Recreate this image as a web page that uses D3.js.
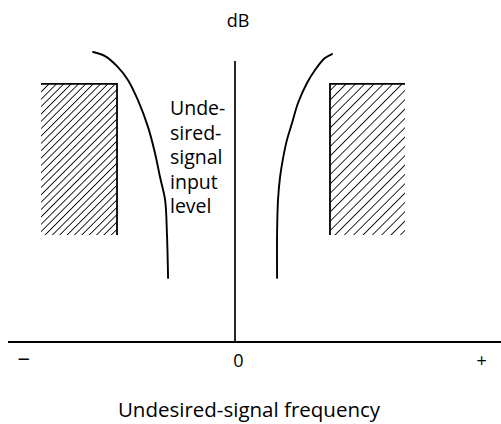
<!DOCTYPE html>
<html>
<head>
<meta charset="utf-8">
<script src="https://cdn.jsdelivr.net/npm/d3@7"></script>
<style>
  html, body { margin: 0; padding: 0; background: #fff; }
  svg { display: block; }
  text { font-family: "Open Sans", "Noto Sans", sans-serif; fill: #000; }
</style>
</head>
<body>
<svg id="chart" width="501" height="424"></svg>
<script>
// Relative frequency (0 = desired channel) and undesired-signal level in dB (relative units)
const xTickValues = [-92, 0, 107];
const xTickLabels = ["\u2212", "0", "+"];

// Selectivity curve, left skirt (frequency, level)
const leftCurveFreq  = [-61.7, -56.5, -50.9, -46.5, -42.2, -37.8, -34.8, -32.6, -30.4, -29.6, -29.1];
const leftCurveLevel = [100.0, 98.6, 94.8, 90.3, 83.4, 74.1, 65.2, 56.9, 49.0, 37.6, 22.1];

// Selectivity curve, right skirt (frequency, level)
const rightCurveFreq  = [42.2, 39.1, 34.8, 31.3, 27.4, 24.8, 22.6, 20.9, 19.6, 18.7, 18.3, 18.3];
const rightCurveLevel = [99.3, 97.9, 93.8, 89.3, 82.4, 75.5, 69.7, 63.4, 56.9, 49.0, 37.6, 22.1];

// Hatched regions of undesired signals
const regionNames  = ["lower", "upper"];
const regionFreqLo = [-84.3, 41.3];
const regionFreqHi = [-51.3, 73.9];
const regionLevLo  = [36.9, 36.9];
const regionLevHi  = [89.0, 89.0];

const axisLevelTop = 96.9;
const axisFreqMin = -98.7, axisFreqMax = 115.7;

const yLabelLines = ["Unde-", "sired-", "signal", "input", "level"];
const yAxisUnit = "dB";
const xAxisTitle = "Undesired-signal frequency";

const svg = d3.select("#chart");

const x = d3.scaleLinear().domain([-100, 100]).range([5, 465]);
const y = d3.scaleLinear().domain([0, 100]).range([342, 52]);

// hatch patterns
const defs = svg.append("defs");
const hatchSpacing = { lower: 5.2, upper: 6.6 };
regionNames.forEach(name => {
  const s = hatchSpacing[name];
  const p = defs.append("pattern")
    .attr("id", "hatch-" + name)
    .attr("patternUnits", "userSpaceOnUse")
    .attr("width", s).attr("height", s)
    .attr("patternTransform", "rotate(45)");
  p.append("line")
    .attr("x1", 0).attr("y1", -1).attr("x2", 0).attr("y2", s + 1)
    .attr("stroke", "#000").attr("stroke-width", 1.7);
});

// hatched regions
const regions = regionNames.map((n, i) => ({
  name: n, f0: regionFreqLo[i], f1: regionFreqHi[i], l0: regionLevLo[i], l1: regionLevHi[i]
}));
const rg = svg.append("g");
rg.selectAll("rect").data(regions).join("rect")
  .attr("x", d => x(d.f0))
  .attr("y", d => y(d.l1))
  .attr("width", d => x(d.f1) - x(d.f0))
  .attr("height", d => y(d.l0) - y(d.l1))
  .attr("fill", d => "url(#hatch-" + d.name + ")");
// borders: top edge and the edge facing the centre
rg.selectAll("path.edge").data(regions).join("path")
  .attr("class", "edge")
  .attr("fill", "none").attr("stroke", "#000").attr("stroke-width", 1.8)
  .attr("d", d => {
    const inner = d.f1 < 0 ? d.f1 : d.f0;
    const outer = d.f1 < 0 ? d.f0 : d.f1;
    return `M${x(outer)},${y(d.l1)}L${x(inner)},${y(d.l1)}L${x(inner)},${y(d.l0)}`;
  });

// axes
svg.append("line")
  .attr("x1", x(axisFreqMin)).attr("x2", x(axisFreqMax))
  .attr("y1", y(0)).attr("y2", y(0))
  .attr("stroke", "#000").attr("stroke-width", 2);
svg.append("line")
  .attr("x1", x(0)).attr("x2", x(0))
  .attr("y1", y(0)).attr("y2", y(axisLevelTop))
  .attr("stroke", "#000").attr("stroke-width", 1.7);

const xAxis = d3.axisBottom(x)
  .tickValues(xTickValues)
  .tickFormat((d, i) => xTickLabels[i])
  .tickSize(0).tickPadding(12);
const gx = svg.append("g").attr("transform", `translate(0,${y(0)})`).call(xAxis);
gx.select(".domain").remove();
gx.selectAll("text")
  .style("font-family", "'Open Sans', sans-serif")
  .style("font-size", (d, i) => i === 0 ? "22px" : "18px")
  .attr("fill", "#000")
  .attr("dx", (d, i) => i === 1 ? 3 : 0)
  .attr("dy", (d, i) => i === 0 ? "0.6em" : "0.71em");

// curves
const line = d3.line().x(d => x(d[0])).y(d => y(d[1])).curve(d3.curveCatmullRom.alpha(0.5));
const curves = [
  d3.zip(leftCurveFreq, leftCurveLevel),
  d3.zip(rightCurveFreq, rightCurveLevel)
];
svg.append("g").selectAll("path").data(curves).join("path")
  .attr("d", line)
  .attr("fill", "none")
  .attr("stroke", "#000")
  .attr("stroke-width", 1.9)
  .attr("stroke-linecap", "round");

// labels
svg.append("text")
  .attr("x", x(0) + 3).attr("y", 27)
  .attr("text-anchor", "middle")
  .style("font-size", "18px")
  .text(yAxisUnit);

svg.append("text")
  .attr("x", 170).attr("y", 115)
  .style("font-size", "19.5px")
  .selectAll("tspan").data(yLabelLines).join("tspan")
  .attr("x", 170)
  .attr("dy", (d, i) => i === 0 ? 0 : 24.5)
  .text(d => d);

svg.append("text")
  .attr("x", 249).attr("y", 417)
  .attr("text-anchor", "middle")
  .style("font-size", "20.5px")
  .text(xAxisTitle);
</script>
</body>
</html>
